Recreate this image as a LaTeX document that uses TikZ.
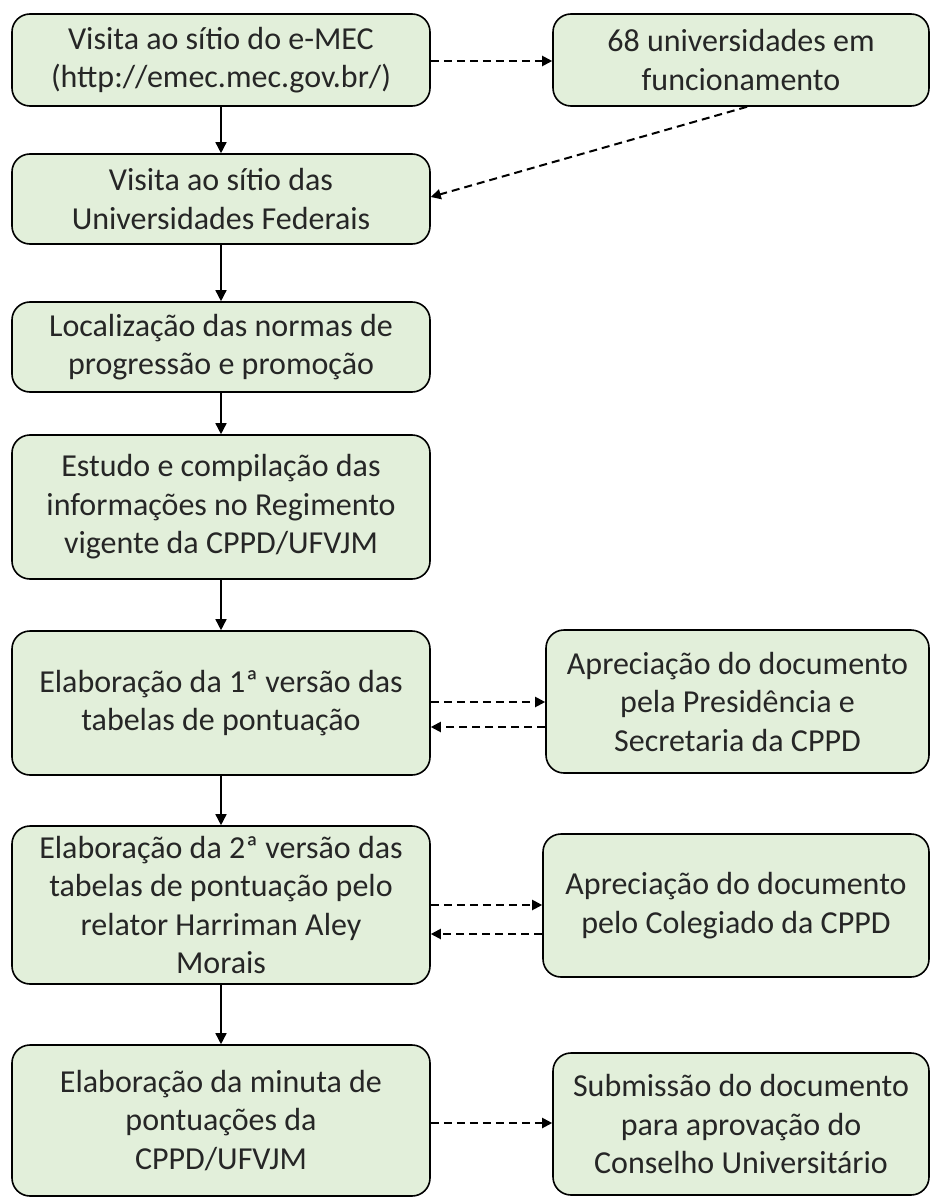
\documentclass[tikz,border=0pt]{standalone}
\usepackage{fontspec}
\setmainfont{Carlito}
\usetikzlibrary{arrows.meta}
\definecolor{boxfill}{HTML}{E2EFDA}
\definecolor{txt}{HTML}{262626}
\tikzset{
  box/.style={draw=black, line width=1.6pt, fill=boxfill, rounded corners=18pt,
    align=center, inner sep=0pt, text=txt, font=\fontsize{32}{38.5}\selectfont},
  solidarrow/.style={line width=1.5pt, -{Triangle[length=11pt,width=11pt]}},
  dasharrow/.style={line width=2pt, dash pattern=on 8pt off 5pt, -{Triangle[length=10pt,width=10pt]}}
}
\begin{document}
\begin{tikzpicture}[x=1pt,y=-1pt]
\useasboundingbox (0,0) rectangle (931,1198);
\node[box, minimum width=418pt, minimum height=92pt] (b1) at (221,60) {Visita ao sítio do e-MEC\\(http://emec.mec.gov.br/)};
\node[box, minimum width=376pt, minimum height=92pt] (r1) at (741,60) {68 universidades em\\funcionamento};
\node[box, minimum width=418pt, minimum height=90pt] (b2) at (221,199) {Visita ao sítio das\\Universidades Federais};
\node[box, minimum width=418pt, minimum height=90pt] (b3) at (221,347) {Localização das normas de\\progressão e promoção};
\node[box, minimum width=418pt, minimum height=144pt] (b4) at (221,507) {Estudo e compilação das\\informações no Regimento\\vigente da CPPD/UFVJM};
\node[box, minimum width=418pt, minimum height=144pt] (b5) at (221,703) {Elaboração da 1ª versão das\\tabelas de pontuação};
\node[box, minimum width=383pt, minimum height=143pt] (r5) at (737.5,701.5) {Apreciação do documento\\pela Presidência e\\Secretaria da CPPD};
\node[box, minimum width=418pt, minimum height=158pt] (b6) at (221,905) {Elaboração da 2ª versão das\\tabelas de pontuação pelo\\relator Harriman Aley\\Morais};
\node[box, minimum width=386pt, minimum height=143pt] (r6) at (736,905.5) {Apreciação do documento\\pelo Colegiado da CPPD};
\node[box, minimum width=418pt, minimum height=151pt] (b7) at (221,1120.5) {Elaboração da minuta de\\pontuações da\\CPPD/UFVJM};
\node[box, minimum width=376pt, minimum height=142pt] (r7) at (741,1124) {Submissão do documento\\para aprovação do\\Conselho Universitário};

\draw[solidarrow] (b1) -- (b2);
\draw[solidarrow] (b2) -- (b3);
\draw[solidarrow] (b3) -- (b4);
\draw[solidarrow] (b4) -- (b5);
\draw[solidarrow] (b5) -- (b6);
\draw[solidarrow] (b6) -- (b7);

\draw[dasharrow] ([yshift=-1pt]b1.east) -- ([yshift=-1pt]b1.east -| r1.west);
\draw[dasharrow] ([xshift=6pt]r1.south) -- ([yshift=2pt]b2.east);
\draw[dasharrow] ([yshift=1pt]b5.east) -- ([yshift=1pt]b5.east -| r5.west);
\draw[dasharrow] ([yshift=-24pt]b5.east -| r5.west) -- ([yshift=-24pt]b5.east);
\draw[dasharrow] (b6.east) -- (b6.east -| r6.west);
\draw[dasharrow] ([yshift=-29pt]b6.east -| r6.west) -- ([yshift=-29pt]b6.east);
\draw[dasharrow] ([yshift=-2.5pt]b7.east) -- ([yshift=-2.5pt]b7.east -| r7.west);
\end{tikzpicture}
\end{document}
